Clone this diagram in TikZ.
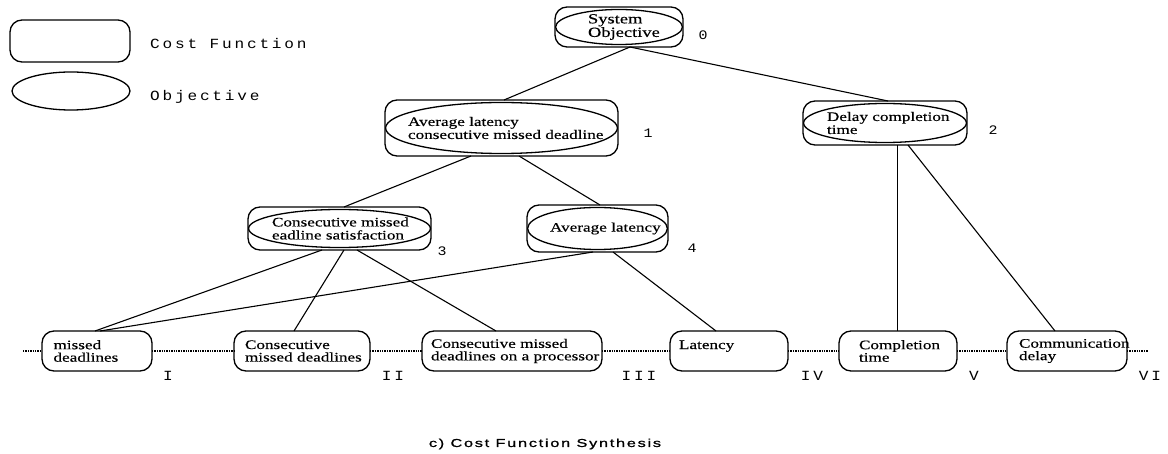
\documentclass[tikz,border=0pt]{standalone}
\usepackage{fontspec}
\setmainfont{Liberation Serif}
\newfontfamily\boxfont{Liberation Serif}[FakeStretch=1.32,FakeBold=0.4]
\newfontfamily\typefont{Liberation Mono}[FakeStretch=1.15,LetterSpace=20]
\newfontfamily\capfont{Liberation Sans}[FakeStretch=1.42,LetterSpace=15,FakeBold=1.2]
\usetikzlibrary{shapes.geometric}

\tikzset{
  border/.style={draw, line width=1.3pt},
  costbox/.style={border, rectangle, rounded corners=12pt, inner ysep=0pt, outer sep=0pt, align=left},
  objshape/.style={border, ellipse, inner sep=0pt, outer sep=0pt},
  ell/.style 2 args={path picture={\draw[line width=1.3pt] (path picture bounding box.center) ellipse [x radius=#1pt, y radius=#2pt];}},
  nodetext/.style={font=\boxfont\fontsize{13}{13}\selectfont},
  leaftext/.style={font=\boxfont\fontsize{13}{12.5}\selectfont},
  legtext/.style={font=\typefont\fontsize{14}{14}\selectfont, inner sep=0pt, anchor=west},
  idx/.style={font=\typefont\fontsize{13}{13}\selectfont, inner sep=0pt},
  edge/.style={line width=1.1pt},
  dotline/.style={line width=1.3pt, dash pattern=on 1.3pt off 1.1pt},
}

\begin{document}
\begin{tikzpicture}[x=1pt, y=-1pt]
\useasboundingbox (0,0) rectangle (1168,454);

% legend
\node[costbox, minimum width=120pt, minimum height=42pt] (legc) at (70,41) {};
\node[objshape, minimum width=118pt, minimum height=38pt] (lego) at (71,91) {};
\node[legtext] (legct) at (150,43) {Cost Function};
\node[legtext] (legot) at (150,97) {Objective};

% objectives (cost function with objective)
\node[costbox, font=\boxfont\fontsize{14}{13.5}\selectfont,
      minimum width=128pt, minimum height=40pt, text width=62pt, inner xsep=33pt, ell={63.4}{17.5}]
      (n0) at (619,27) {\mbox{System}\\\mbox{Objective}};
\node[costbox, nodetext, minimum width=233pt, minimum height=56pt, text width=187pt, inner xsep=23pt, ell={115.9}{25.5}]
      (n1) at (501.5,128) {\mbox{Average latency}\\\mbox{consecutive missed deadline}};
\node[costbox, nodetext, minimum width=164pt, minimum height=44pt, text width=116pt, inner xsep=24pt, ell={81.4}{19.5}]
      (n2) at (885,123) {\mbox{Delay completion}\\\mbox{time}};
\node[costbox, nodetext, minimum width=183pt, minimum height=43pt, text width=135pt, inner xsep=24pt, ell={90.9}{19}]
      (n3) at (339.5,228.5) {\mbox{Consecutive missed}\\\mbox{eadline satisfaction}};
\node[costbox, nodetext, minimum width=141pt, minimum height=47pt, text width=95pt, inner xsep=23pt, ell={69.9}{21}]
      (n4) at (597.5,228.5) {\mbox{Average latency}};

% objective numbers
\node[idx] (l0) at (703,35) {0};
\node[idx] (l1) at (648,133) {1};
\node[idx] (l2) at (993,130) {2};
\node[idx] (l3) at (442,251) {3};
\node[idx] (l4) at (692,248) {4};

% cost functions
\node[costbox, leaftext, minimum height=40pt, text width=87pt, inner xsep=11.5pt] (b1) at (97,351) {\mbox{missed}\\\mbox{deadlines}};
\node[costbox, leaftext, minimum height=40pt, text width=114pt, inner xsep=11pt] (b2) at (302,351) {\mbox{Consecutive}\\\mbox{missed deadlines}};
\node[costbox, leaftext, minimum height=40pt, text width=162pt, inner xsep=9pt] (b3) at (512,351) {\mbox{Consecutive missed}\\\mbox{deadlines on a processor}};
\node[costbox, leaftext, minimum height=40pt, text width=100pt, inner xsep=9pt] (b4) at (729,351) {\mbox{Latency}\\\mbox{}};
\node[costbox, leaftext, minimum height=40pt, text width=78pt, inner xsep=20pt] (b5) at (898,351) {\mbox{Completion}\\\mbox{time}};
\node[costbox, leaftext, minimum height=40pt, text width=96pt, inner xsep=12pt] (b6) at (1067,351) {\mbox{Communication}\\\mbox{delay}};

% cost function numbers
\node[legtext, anchor=center] (r1) at (168,376) {I};
\node[legtext, anchor=center] (r2) at (393,376) {II};
\node[legtext, anchor=center] (r3) at (639,376) {III};
\node[legtext, anchor=center] (r4) at (812,376) {IV};
\node[legtext, anchor=center] (r5) at (974,376) {V};
\node[legtext, anchor=center] (r6) at (1150,376) {VI};

% dotted base line through the cost functions
\coordinate (dl) at (23,351);
\coordinate (dr) at (1148,351);
\draw[dotline] (dl) -- (b1.west);
\draw[dotline] (b1.east) -- (b2.west);
\draw[dotline] (b2.east) -- (b3.west);
\draw[dotline] (b3.east) -- (b4.west);
\draw[dotline] (b4.east) -- (b5.west);
\draw[dotline] (b5.east) -- (b6.west);
\draw[dotline] (b6.east) -- (dr);

% hierarchy
\draw[edge] ([xshift=11pt]n0.south) -- ([xshift=2.5pt]n1.north);
\draw[edge] ([xshift=11pt]n0.south) -- ([xshift=3pt]n2.north);
\draw[edge] ([xshift=-30.5pt]n1.south) -- ([xshift=4.5pt]n3.north);
\draw[edge] ([xshift=17.5pt]n1.south) -- ([xshift=2.5pt]n4.north);
\draw[edge] ([xshift=12.5pt]n2.south) -- ([xshift=-0.5pt]b5.north);
\draw[edge] ([xshift=23pt]n2.south) -- ([xshift=-12pt]b6.north);
\draw[edge] ([xshift=-17.5pt]n3.south) -- ([xshift=-2pt]b1.north);
\draw[edge] ([xshift=4.5pt]n3.south) -- ([xshift=-8pt]b2.north);
\draw[edge] ([xshift=17.5pt]n3.south) -- ([xshift=-16pt]b3.north);
\draw[edge] ([xshift=-4.5pt]n4.south) -- ([xshift=3pt]b1.north);
\draw[edge] ([xshift=15.5pt]n4.south) -- ([xshift=-13pt]b4.north);

% caption
\node[font=\capfont\fontsize{11.5}{11.5}\selectfont, inner sep=0pt] (cap) at (545,444) {c) Cost Function Synthesis};
\end{tikzpicture}
\end{document}
